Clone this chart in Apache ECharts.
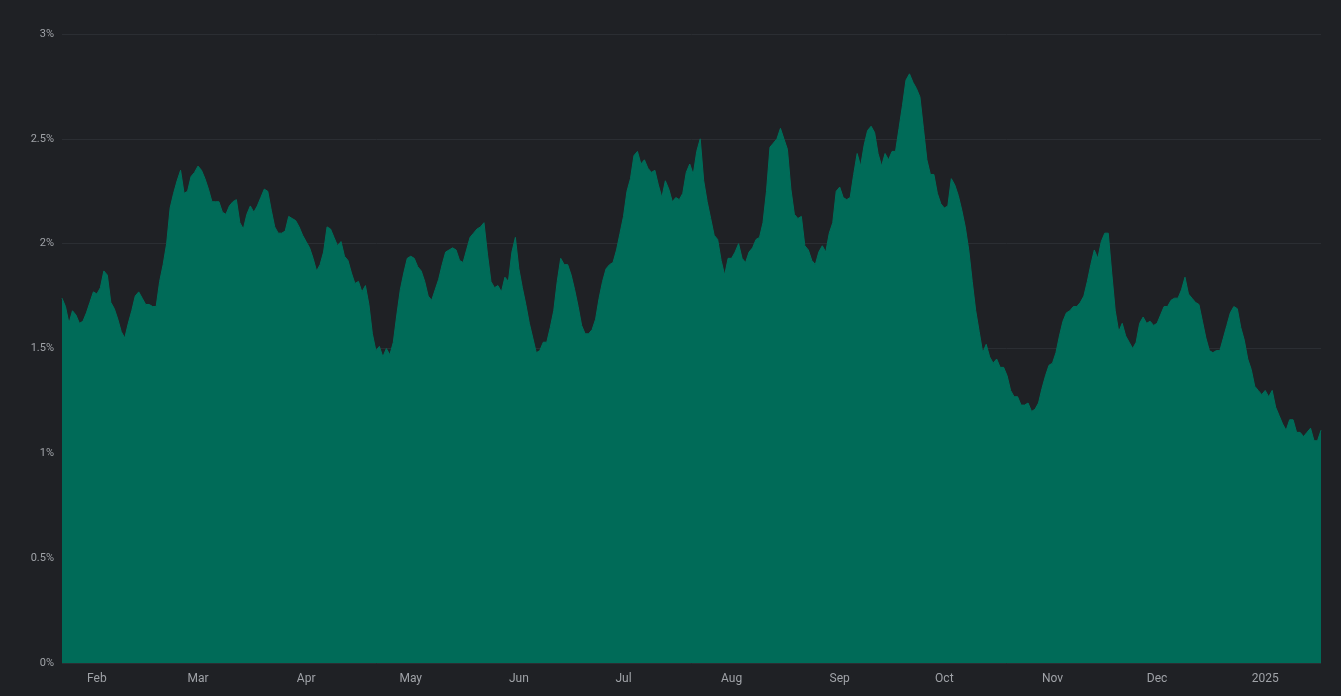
<!DOCTYPE html>
<html lang="en">
<head>
<meta charset="UTF-8">
<title>Area chart</title>
<script src="https://cdn.jsdelivr.net/npm/echarts@6/dist/echarts.min.js"></script>
<style>html,body{margin:0;background:#1f2125;}</style>
</head>
<body>
<div id="main" style="width:1341px;height:696px;"></div>
<script>
// daily values (%), starting 2024-01-22
var startDate = '2024-01-22';
var values = [
1.74,1.70,1.62,1.68,1.66,1.62,1.63,1.67,1.72,1.77,1.76,1.79,1.87,1.85,1.72,1.69,1.64,1.58,1.55,1.62,
1.68,1.75,1.77,1.74,1.71,1.71,1.70,1.70,1.82,1.90,2.00,2.17,2.24,2.30,2.35,2.24,2.25,2.32,2.34,2.37,
2.35,2.31,2.26,2.20,2.20,2.20,2.15,2.14,2.18,2.20,2.21,2.10,2.07,2.14,2.18,2.15,2.18,2.22,2.26,2.25,
2.16,2.08,2.05,2.05,2.06,2.13,2.12,2.11,2.08,2.04,2.01,1.98,1.93,1.87,1.90,1.96,2.08,2.07,2.03,1.99,
2.01,1.94,1.92,1.86,1.81,1.82,1.77,1.80,1.71,1.57,1.49,1.51,1.46,1.50,1.47,1.53,1.66,1.78,1.86,1.93,
1.94,1.93,1.89,1.87,1.82,1.75,1.73,1.78,1.83,1.90,1.96,1.97,1.98,1.97,1.92,1.91,1.97,2.03,2.05,2.07,
2.08,2.10,1.95,1.82,1.79,1.80,1.77,1.84,1.82,1.96,2.03,1.88,1.79,1.71,1.62,1.55,1.48,1.49,1.53,1.53,
1.60,1.68,1.82,1.93,1.90,1.90,1.85,1.78,1.70,1.61,1.57,1.57,1.59,1.64,1.74,1.82,1.88,1.90,1.91,1.97,
2.05,2.13,2.25,2.31,2.42,2.44,2.38,2.40,2.36,2.34,2.35,2.28,2.22,2.30,2.26,2.20,2.22,2.21,2.24,2.34,
2.38,2.33,2.44,2.50,2.30,2.20,2.12,2.04,2.02,1.92,1.85,1.93,1.93,1.96,2.00,1.93,1.91,1.96,1.98,2.02,
2.03,2.10,2.25,2.46,2.48,2.50,2.55,2.50,2.45,2.26,2.14,2.12,2.13,1.99,1.97,1.92,1.90,1.96,1.99,1.96,
2.05,2.10,2.25,2.27,2.22,2.21,2.22,2.33,2.43,2.37,2.47,2.54,2.56,2.53,2.43,2.37,2.43,2.40,2.44,2.44,
2.55,2.66,2.78,2.81,2.77,2.74,2.70,2.55,2.40,2.33,2.33,2.24,2.19,2.17,2.18,2.31,2.28,2.23,2.16,2.08,
1.97,1.82,1.68,1.58,1.48,1.52,1.46,1.43,1.45,1.41,1.41,1.37,1.30,1.27,1.27,1.23,1.23,1.24,1.20,1.21,
1.24,1.31,1.37,1.42,1.43,1.48,1.56,1.63,1.67,1.68,1.70,1.70,1.72,1.75,1.82,1.90,1.97,1.93,2.01,2.05,
2.05,1.86,1.68,1.58,1.62,1.56,1.53,1.50,1.53,1.62,1.65,1.62,1.63,1.61,1.62,1.66,1.70,1.70,1.73,1.74,
1.74,1.78,1.84,1.76,1.74,1.72,1.71,1.63,1.55,1.49,1.48,1.49,1.49,1.55,1.61,1.67,1.70,1.69,1.60,1.54,
1.45,1.40,1.32,1.30,1.28,1.30,1.27,1.30,1.22,1.18,1.14,1.11,1.16,1.16,1.10,1.10,1.08,1.10,1.12,1.06,
1.06,1.11
];
var yTicks = [0, 0.5, 1, 1.5, 2, 2.5, 3];
var monthNames = ['Jan','Feb','Mar','Apr','May','Jun','Jul','Aug','Sep','Oct','Nov','Dec'];

var dates = [];
var d0 = new Date(startDate + 'T00:00:00Z');
for (var i = 0; i < values.length; i++) {
    var d = new Date(d0.getTime() + i * 86400000);
    dates.push(d.toISOString().slice(0, 10));
}

var option = {
    backgroundColor: '#1f2125',
    animation: false,
    grid: { left: 62, right: 20, top: 34, bottom: 33 },
    xAxis: {
        type: 'category',
        boundaryGap: false,
        data: dates,
        axisLine: { show: false },
        axisTick: { show: false },
        splitLine: { show: false },
        axisLabel: {
            color: '#a0a3a8',
            fontSize: 12,
            fontFamily: 'Roboto, sans-serif',
            margin: 10,
            interval: function (idx, val) { return val.slice(8) === '01'; },
            formatter: function (val) {
                var m = parseInt(val.slice(5, 7), 10);
                return m === 1 ? val.slice(0, 4) : monthNames[m - 1];
            }
        }
    },
    yAxis: {
        type: 'value',
        min: yTicks[0],
        max: yTicks[yTicks.length - 1],
        interval: 0.5,
        axisLine: { show: false },
        axisTick: { show: false },
        axisLabel: {
            color: '#a0a3a8',
            fontSize: 11,
            fontFamily: 'Roboto, sans-serif',
            margin: 8,
            formatter: function (v) { return v + '%'; }
        },
        splitLine: { lineStyle: { color: '#2b2e33', width: 1 } }
    },
    series: [{
        type: 'line',
        data: values,
        symbol: 'none',
        lineStyle: { width: 1, color: '#006e5a' },
        areaStyle: { color: '#006b58', opacity: 1 }
    }]
};

var myChart = echarts.init(document.getElementById('main'));
myChart.setOption(option);
</script>
</body>
</html>
